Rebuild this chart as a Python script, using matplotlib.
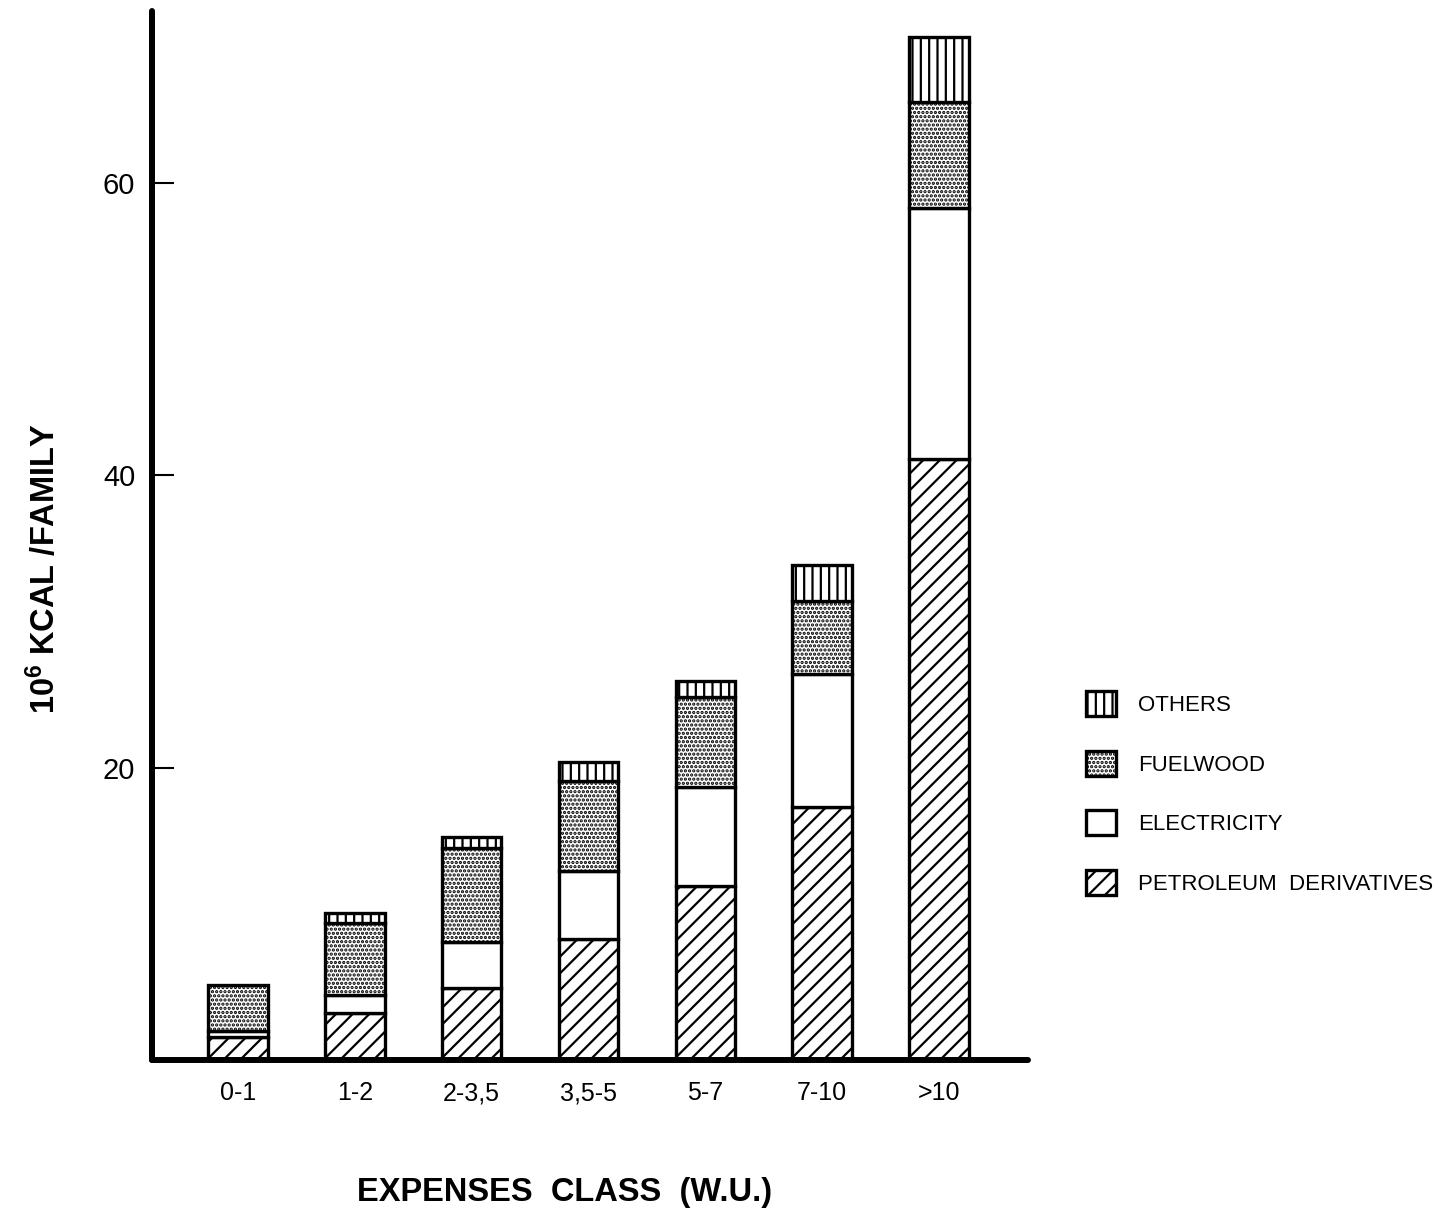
import matplotlib
matplotlib.use("Agg")
import matplotlib.pyplot as plt
from matplotlib.patches import Patch

plt.rcParams['font.family'] = ['Liberation Sans', 'DejaVu Sans']
plt.rcParams['hatch.linewidth'] = 1.6
plt.rcParams['mathtext.fontset'] = 'custom'
plt.rcParams['mathtext.bf'] = 'Liberation Sans:bold'
plt.rcParams['mathtext.rm'] = 'Liberation Sans:bold'

classes = ['0-1', '1-2', '2-3,5', '3,5-5', '5-7', '7-10', '>10']
petroleum = [1.6, 3.2, 4.9, 8.3, 11.9, 17.3, 41.1]
electricity = [0.4, 1.25, 3.2, 4.6, 6.8, 9.1, 17.2]
fuelwood = [3.15, 4.9, 6.4, 6.2, 6.1, 5.0, 7.2]
others = [0.0, 0.7, 0.75, 1.25, 1.1, 2.45, 4.5]

series = [
    ('PETROLEUM  DERIVATIVES', petroleum, '//'),
    ('ELECTRICITY', electricity, ''),
    ('FUELWOOD', fuelwood, '....'),
    ('OTHERS', others, '||'),
]

fig = plt.figure(figsize=(14.52, 12.22), dpi=100)
ax = fig.add_axes([152/1452, 162/1222, 876/1452, 1049/1222])

x = list(range(len(classes)))
bottom = [0.0] * len(classes)
handles = []
for name, vals, hatch in series:
    for i in range(len(x)):
        if vals[i] > 0:
            ax.bar(x[i], vals[i], bottom=bottom[i], width=0.51,
                   color='white', edgecolor='black', linewidth=2.4, hatch=hatch)
    bottom = [b + v for b, v in zip(bottom, vals)]
    handles.append(Patch(facecolor='white', edgecolor='black', linewidth=2.4,
                         hatch=hatch, label=name))

ax.set_xlim(-0.735, 6.76)
ax.set_ylim(0, 71.75)
ax.set_xticks(x)
ax.set_xticklabels(classes, fontsize=18, va='baseline')
ax.set_yticks([20, 40, 60])
ax.tick_params(axis='y', direction='in', length=16, width=1.5, pad=12, labelsize=21)
ax.tick_params(axis='x', length=0, pad=29)
for s in ['top', 'right']:
    ax.spines[s].set_visible(False)
for s in ['left', 'bottom']:
    ax.spines[s].set_linewidth(4.3)
    ax.spines[s].set_capstyle('round')

fig.text(44/1452, 1 - 569/1222, r'$\mathbf{10^6}$ KCAL /FAMILY', rotation=90,
         ha='center', va='center', fontsize=23.5, fontweight='bold')
fig.text(565/1452, 1 - 1192/1222, 'EXPENSES  CLASS  (W.U.)', ha='center', va='center',
         fontsize=23.5, fontweight='bold')

leg = fig.legend(handles=handles[::-1], loc='center left',
                 bbox_to_anchor=(1066/1452, 1 - 793/1222), frameon=False,
                 fontsize=16, handlelength=1.35, handleheight=1.35,
                 labelspacing=1.55, handletextpad=1.0)

fig.savefig('out.png', dpi=100)
